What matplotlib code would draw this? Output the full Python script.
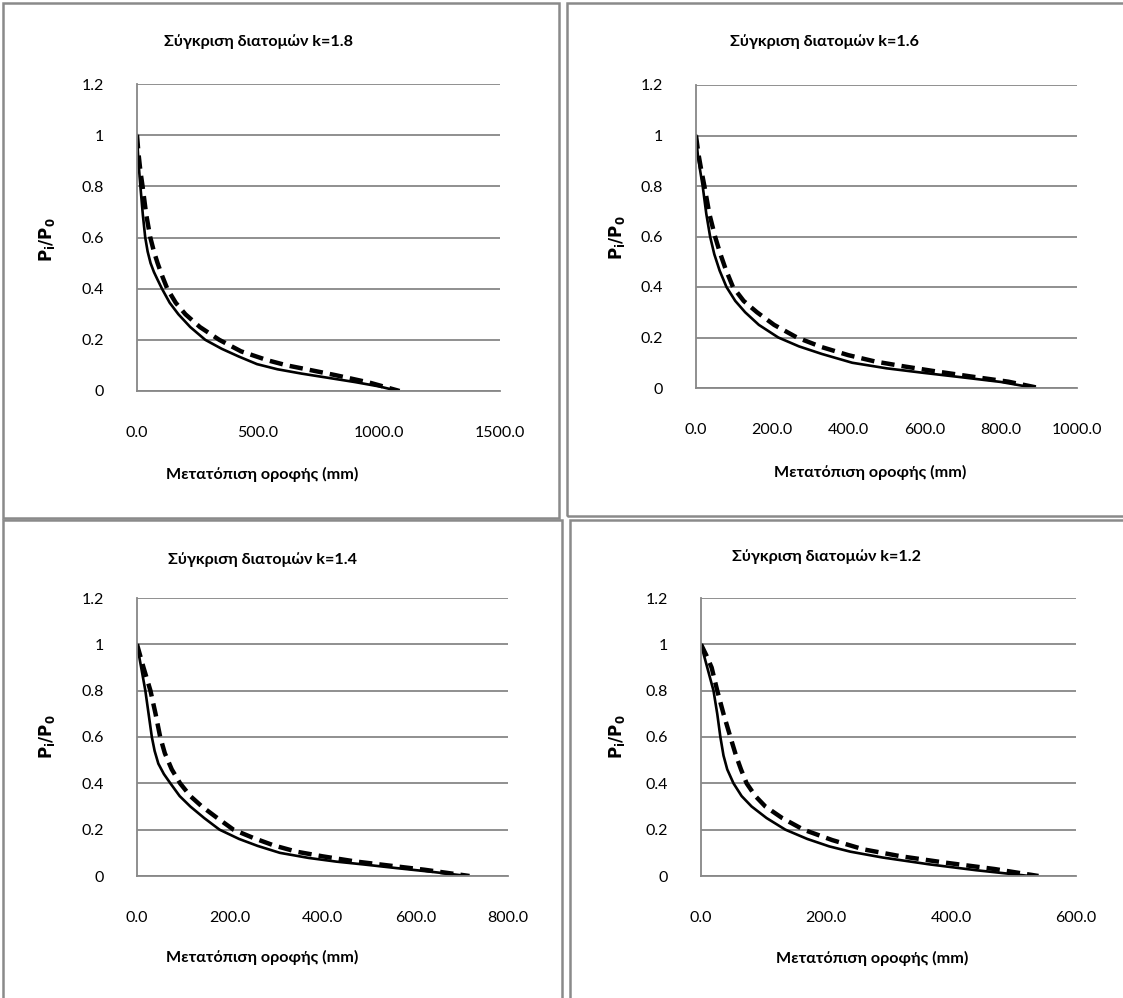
import matplotlib
matplotlib.use("Agg")
import matplotlib.pyplot as plt
from matplotlib.patches import Rectangle

plt.rcParams['font.family'] = ['Lato', 'DejaVu Sans']

# ---- data ----
titles = ["Σύγκριση διατομών k=1.8", "Σύγκριση διατομών k=1.6",
          "Σύγκριση διατομών k=1.4", "Σύγκριση διατομών k=1.2"]

k18_x_solid = [0, 4, 9, 14, 24, 34, 44, 56, 70, 85, 103, 135, 171, 220, 282, 350, 420, 496,
               580, 680, 800, 900, 1000, 1080]
k18_y_solid = [1.0, 0.93, 0.86, 0.8, 0.69, 0.6, 0.545, 0.5, 0.465, 0.435, 0.4, 0.345, 0.3, 0.25,
               0.2, 0.165, 0.135, 0.105, 0.085, 0.068, 0.05, 0.035, 0.018, 0.0]
k18_x_dash = [0, 6, 14, 23, 38, 55, 70, 85, 104, 125, 160, 200, 260, 340, 430, 540, 620, 700,
              820, 960, 1085]
k18_y_dash = [1.0, 0.93, 0.86, 0.8, 0.69, 0.6, 0.545, 0.5, 0.45, 0.4, 0.345, 0.3, 0.25, 0.2,
              0.155, 0.12, 0.1, 0.085, 0.062, 0.033, 0.0]

k16_x_solid = [0, 5, 11, 17.5, 27, 37, 48, 62, 80, 103, 129, 165, 216, 270, 330, 410, 500, 597,
               700, 800, 890]
k16_y_solid = [1.0, 0.92, 0.86, 0.8, 0.69, 0.6, 0.53, 0.465, 0.4, 0.345, 0.3, 0.25, 0.2, 0.165,
               0.135, 0.1, 0.078, 0.06, 0.042, 0.024, 0.0]
k16_x_dash = [0, 6, 13, 22, 35, 50, 63, 78, 97, 125, 160, 205, 265, 330, 400, 470, 540, 620,
              720, 820, 900]
k16_y_dash = [1.0, 0.93, 0.87, 0.8, 0.69, 0.6, 0.535, 0.47, 0.4, 0.345, 0.3, 0.25, 0.2, 0.162,
              0.13, 0.105, 0.087, 0.068, 0.046, 0.025, 0.0]

k14_x_solid = [0, 9, 18, 25, 32, 38, 46, 58, 72, 92, 115, 145, 178, 220, 260, 308, 370, 430,
               488, 560, 640, 713]
k14_y_solid = [1.0, 0.9, 0.8, 0.7, 0.6, 0.54, 0.485, 0.44, 0.4, 0.345, 0.3, 0.25, 0.2, 0.16,
               0.13, 0.1, 0.078, 0.062, 0.05, 0.034, 0.017, 0.0]
k14_x_dash = [0, 14, 29, 40, 50, 60, 75, 93, 115, 140, 170, 208, 250, 295, 344, 400, 470, 540,
              620, 717]
k14_y_dash = [1.0, 0.9, 0.8, 0.7, 0.6, 0.53, 0.46, 0.4, 0.345, 0.3, 0.255, 0.2, 0.165, 0.132,
              0.105, 0.085, 0.063, 0.046, 0.027, 0.0]

k12_x_solid = [0, 10, 20, 26, 31, 36, 42, 52, 65, 81, 105, 135, 170, 205, 239, 290, 366, 440,
               526]
k12_y_solid = [1.0, 0.9, 0.8, 0.7, 0.6, 0.52, 0.46, 0.4, 0.345, 0.3, 0.25, 0.2, 0.16, 0.128,
               0.105, 0.08, 0.05, 0.025, 0.0]
k12_x_dash = [0, 9, 17, 26, 36, 47, 56, 64, 73, 87, 103, 130, 164, 210, 260, 320, 390, 470, 540]
k12_y_dash = [1.0, 0.95, 0.9, 0.8, 0.7, 0.6, 0.52, 0.46, 0.4, 0.345, 0.3, 0.25, 0.2, 0.155,
              0.115, 0.085, 0.058, 0.03, 0.0]

x_ticks = [[0, 500, 1000, 1500], [0, 200, 400, 600, 800, 1000],
           [0, 200, 400, 600, 800], [0, 200, 400, 600]]
y_ticks = [0, 0.2, 0.4, 0.6, 0.8, 1.0, 1.2]
y_ticklabels = ["0", "0.2", "0.4", "0.6", "0.8", "1", "1.2"]

series = [
    (k18_x_solid, k18_y_solid, k18_x_dash, k18_y_dash),
    (k16_x_solid, k16_y_solid, k16_x_dash, k16_y_dash),
    (k14_x_solid, k14_y_solid, k14_x_dash, k14_y_dash),
    (k12_x_solid, k12_y_solid, k12_x_dash, k12_y_dash),
]

xlabel = "Μετατόπιση οροφής (mm)"
ylabel = r"$\mathbf{P_i/P_0}$"

# ---- layout (pixels) ----
W, H = 1123, 998
fig = plt.figure(figsize=(W / 100, H / 100), dpi=100)

def fx(x):
    return x / W

def fy(y):
    return 1 - y / H

frames = [(3, 3, 559, 518), (567, 3, 1125, 516), (3, 520, 562, 1001), (570, 520, 1125, 1001)]
boxes = [(137, 84, 500, 391), (696, 85, 1077, 388), (137, 598, 508, 876), (701, 598, 1076, 876)]
title_pos = [(259, 42), (825, 42), (262, 560), (827, 557)]
xlabel_pos = [(262, 474), (870, 472), (262, 957), (872, 958)]
ylabel_pos = [(47, 240), (617, 238), (47, 737), (617, 737)]

grid_c = "#878787"

for i in range(4):
    x0, y0, x1, y1 = frames[i]
    fig.add_artist(Rectangle((fx(x0), fy(y1)), fx(x1) - fx(x0), fy(y0) - fy(y1),
                             transform=fig.transFigure, fill=False,
                             edgecolor="#8a8a8a", linewidth=1.8))
    bx0, by0, bx1, by1 = boxes[i]
    ax = fig.add_axes([fx(bx0), fy(by1), fx(bx1) - fx(bx0), fy(by0) - fy(by1)])
    xs, ys, xd, yd = series[i]
    ax.plot(xs, ys, color="black", lw=1.9, solid_joinstyle="round")
    ax.plot(xd, yd, color="black", lw=3.2, linestyle=(0, (3.0, 1.6)),
            dash_capstyle="butt")
    ax.set_xlim(x_ticks[i][0], x_ticks[i][-1])
    ax.set_ylim(0, 1.2)
    ax.set_xticks(x_ticks[i])
    ax.set_xticklabels([f"{v:.1f}" for v in x_ticks[i]])
    ax.set_yticks(y_ticks)
    ax.set_yticklabels(y_ticklabels)
    ax.tick_params(axis="both", length=0, labelsize=11.5, colors="black")
    ax.tick_params(axis="y", pad=24)
    ax.tick_params(axis="x", pad=25)
    ax.yaxis.grid(True, color=grid_c, lw=1.3)
    ax.set_axisbelow(True)
    for s in ["top", "right"]:
        ax.spines[s].set_visible(False)
    for s in ["left", "bottom"]:
        ax.spines[s].set_color(grid_c)
        ax.spines[s].set_linewidth(1.3)
    tx, ty = title_pos[i]
    fig.text(fx(tx), fy(ty), titles[i], ha="center", va="center",
             fontsize=11.6, fontweight="bold")
    lx, ly = xlabel_pos[i]
    fig.text(fx(lx), fy(ly), xlabel, ha="center", va="center",
             fontsize=11.6, fontweight="bold")
    yx, yy = ylabel_pos[i]
    fig.text(fx(yx), fy(yy), ylabel, ha="center", va="center", rotation=90,
             fontsize=12)

fig.savefig("out.png", dpi=100)
